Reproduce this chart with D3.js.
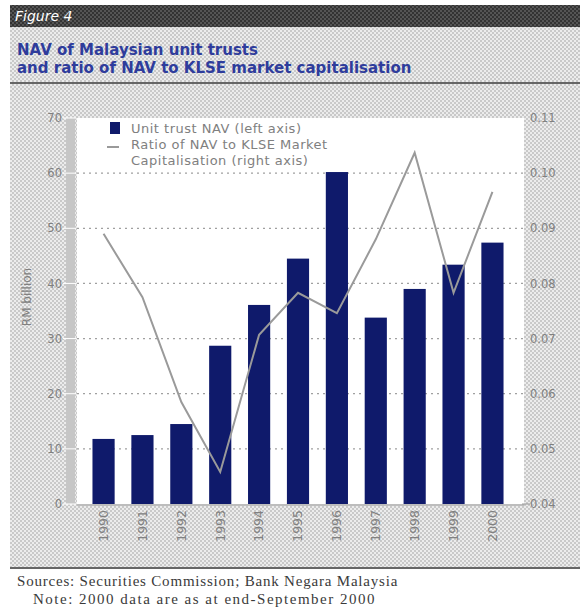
<!DOCTYPE html>
<html>
<head>
<meta charset="utf-8">
<script src="https://cdn.jsdelivr.net/npm/d3@7"></script>
<style>
  html, body { margin: 0; padding: 0; background: #fff; }
  svg { display: block; }
</style>
</head>
<body>
<div id="chart"></div>
<script>
// Unit trust NAV (RM billion) and NAV / KLSE market capitalisation ratio, 1990-2000
const years = ["1990","1991","1992","1993","1994","1995","1996","1997","1998","1999","2000"];
const navValues = [11.8, 12.5, 14.5, 28.7, 36.1, 44.5, 60.2, 33.8, 39.0, 43.4, 47.4];
const ratioValues = [0.089, 0.0775, 0.0585, 0.0458, 0.0707, 0.0783, 0.0746, 0.088, 0.1037, 0.0783, 0.0966];
const leftTicks = [0, 10, 20, 30, 40, 50, 60, 70];
const rightTicks = [0.04, 0.05, 0.06, 0.07, 0.08, 0.09, 0.10, 0.11];

const W = 580, H = 610;
const svg = d3.select("#chart").append("svg").attr("width", W).attr("height", H);
const defs = svg.append("defs");

// light stippled panel texture
const pLight = defs.append("pattern").attr("id", "stipple")
  .attr("width", 4).attr("height", 4).attr("patternUnits", "userSpaceOnUse");
pLight.append("rect").attr("width", 4).attr("height", 4).attr("fill", "#ececec");
pLight.append("rect").attr("x", 0).attr("y", 0).attr("width", 2).attr("height", 2).attr("fill", "#c9c9c9");
pLight.append("rect").attr("x", 2).attr("y", 2).attr("width", 2).attr("height", 2).attr("fill", "#c9c9c9");

// dark stippled header texture
const pDark = defs.append("pattern").attr("id", "stippleDark")
  .attr("width", 4).attr("height", 4).attr("patternUnits", "userSpaceOnUse");
pDark.append("rect").attr("width", 4).attr("height", 4).attr("fill", "#555");
pDark.append("rect").attr("x", 0).attr("y", 0).attr("width", 2).attr("height", 2).attr("fill", "#333");
pDark.append("rect").attr("x", 2).attr("y", 2).attr("width", 2).attr("height", 2).attr("fill", "#333");

// panel background
svg.append("rect").attr("x", 10).attr("y", 26).attr("width", W - 10).attr("height", 542)
  .attr("fill", "url(#stipple)");
// header bar
svg.append("rect").attr("x", 10).attr("y", 5).attr("width", W - 10).attr("height", 22)
  .attr("fill", "url(#stippleDark)");
svg.append("text").attr("x", 15).attr("y", 21)
  .attr("font-family", "DejaVu Sans, sans-serif").attr("font-size", 14)
  .attr("font-style", "italic").attr("fill", "#fff").text("Figure 4");

// title
const title = svg.append("text").attr("font-family", "DejaVu Sans, sans-serif")
  .attr("font-weight", "bold").attr("font-size", 15).attr("fill", "#2e3c9c");
title.append("tspan").attr("x", 17).attr("y", 55).text("NAV of Malaysian unit trusts");
title.append("tspan").attr("x", 17).attr("y", 73).text("and ratio of NAV to KLSE market capitalisation");

// separator lines
svg.append("line").attr("x1", 10).attr("x2", W).attr("y1", 83).attr("y2", 83)
  .attr("stroke", "#666").attr("stroke-width", 2);
svg.append("line").attr("x1", 10).attr("x2", W).attr("y1", 568).attr("y2", 568)
  .attr("stroke", "#666").attr("stroke-width", 2);

// plot region
const plot = { left: 77, right: 524, top: 118, bottom: 504 };
svg.append("rect").attr("x", plot.left).attr("y", plot.top)
  .attr("width", plot.right - plot.left).attr("height", plot.bottom - plot.top).attr("fill", "#fff");
// left axis band
svg.append("rect").attr("x", 66).attr("y", plot.top).attr("width", 9)
  .attr("height", plot.bottom - plot.top).attr("fill", "#c6c6c6");

const x = d3.scaleBand().domain(years).range([74, 522]).paddingInner(0.43).paddingOuter(0.475);
const yL = d3.scaleLinear().domain([0, 70]).range([plot.bottom, plot.top]);
const yR = d3.scaleLinear().domain([0.04, 0.11]).range([plot.bottom, plot.top]);

// gridlines
svg.append("g").selectAll("line").data(leftTicks.filter(d => d > 0 && d < 70)).join("line")
  .attr("x1", plot.left).attr("x2", plot.right)
  .attr("y1", d => yL(d)).attr("y2", d => yL(d))
  .attr("stroke", "#a0a0a0").attr("stroke-width", 1.3).attr("stroke-dasharray", "2,4");

// bars
svg.append("g").selectAll("rect").data(years).join("rect")
  .attr("x", d => x(d)).attr("width", x.bandwidth())
  .attr("y", (d, i) => yL(navValues[i]))
  .attr("height", (d, i) => yL(0) - yL(navValues[i]))
  .attr("fill", "#0f1a6b");

// ratio line
const line = d3.line().x((d, i) => x(years[i]) + x.bandwidth() / 2).y(d => yR(d));
svg.append("path").datum(ratioValues).attr("d", line)
  .attr("fill", "none").attr("stroke", "#9a9a9a").attr("stroke-width", 2);

// x baseline
svg.append("line").attr("x1", plot.left).attr("x2", plot.right)
  .attr("y1", plot.bottom + 1).attr("y2", plot.bottom + 1)
  .attr("stroke", "#bdbdbd").attr("stroke-width", 2);

const tickFont = "DejaVu Sans, sans-serif";
// left axis
const axL = svg.append("g").attr("transform", `translate(64,0)`)
  .call(d3.axisLeft(yL).tickValues(leftTicks).tickSize(0).tickPadding(2).tickFormat(d3.format("d")));
axL.select(".domain").remove();
axL.selectAll("text").attr("font-family", tickFont).attr("font-size", 11.5).attr("fill", "#808080");
svg.append("g").selectAll("line").data(leftTicks).join("line")
  .attr("x1", 63).attr("x2", 76).attr("y1", d => yL(d)).attr("y2", d => yL(d))
  .attr("stroke", "#fff").attr("stroke-width", 1);

// right axis
const axR = svg.append("g").attr("transform", `translate(528,0)`)
  .call(d3.axisRight(yR).tickValues(rightTicks).tickSize(0).tickPadding(2).tickFormat(d3.format(".2f")));
axR.select(".domain").remove();
axR.selectAll("text").attr("font-family", tickFont).attr("font-size", 11.5).attr("fill", "#808080");
svg.append("line").attr("x1", plot.right - 2).attr("x2", 530)
  .attr("y1", yR(0.04)).attr("y2", yR(0.04)).attr("stroke", "#999");

// x axis labels (rotated)
const axX = svg.append("g").attr("transform", `translate(0,${plot.bottom + 4})`)
  .call(d3.axisBottom(x).tickSize(0).tickPadding(0));
axX.select(".domain").remove();
axX.selectAll("text")
  .attr("transform", "rotate(-90)")
  .attr("text-anchor", "end").attr("dy", "0.35em").attr("x", -2).attr("y", 0)
  .attr("font-family", tickFont).attr("font-size", 12.5).attr("fill", "#808080");

// y axis title
svg.append("text").attr("transform", `translate(31,${(plot.top + plot.bottom) / 2 - 14}) rotate(-90)`)
  .attr("text-anchor", "middle").attr("font-family", tickFont).attr("font-size", 12)
  .attr("fill", "#808080").text("RM billion");

// legend
const lg = svg.append("g").attr("font-family", tickFont).attr("font-size", 13)
  .attr("letter-spacing", 0.5).attr("fill", "#808080");
lg.append("rect").attr("x", 110).attr("y", 122).attr("width", 10).attr("height", 12).attr("fill", "#0f1a6b");
lg.append("text").attr("x", 131).attr("y", 133).text("Unit trust NAV (left axis)");
lg.append("line").attr("x1", 107).attr("x2", 119).attr("y1", 147).attr("y2", 147)
  .attr("stroke", "#9a9a9a").attr("stroke-width", 2);
lg.append("text").attr("x", 131).attr("y", 149).text("Ratio of NAV to KLSE Market");
lg.append("text").attr("x", 131).attr("y", 165).text("Capitalisation (right axis)");

// notes
const notes = svg.append("g").attr("font-family", "Liberation Serif, Times New Roman, serif")
  .attr("font-size", 15).attr("fill", "#3a3a3a");
notes.append("text").attr("x", 17).attr("y", 586).attr("letter-spacing", 0.8)
  .text("Sources: Securities Commission; Bank Negara Malaysia");
notes.append("text").attr("x", 33).attr("y", 604).attr("letter-spacing", 1.5)
  .text("Note: 2000 data are as at end-September 2000");
</script>
</body>
</html>
